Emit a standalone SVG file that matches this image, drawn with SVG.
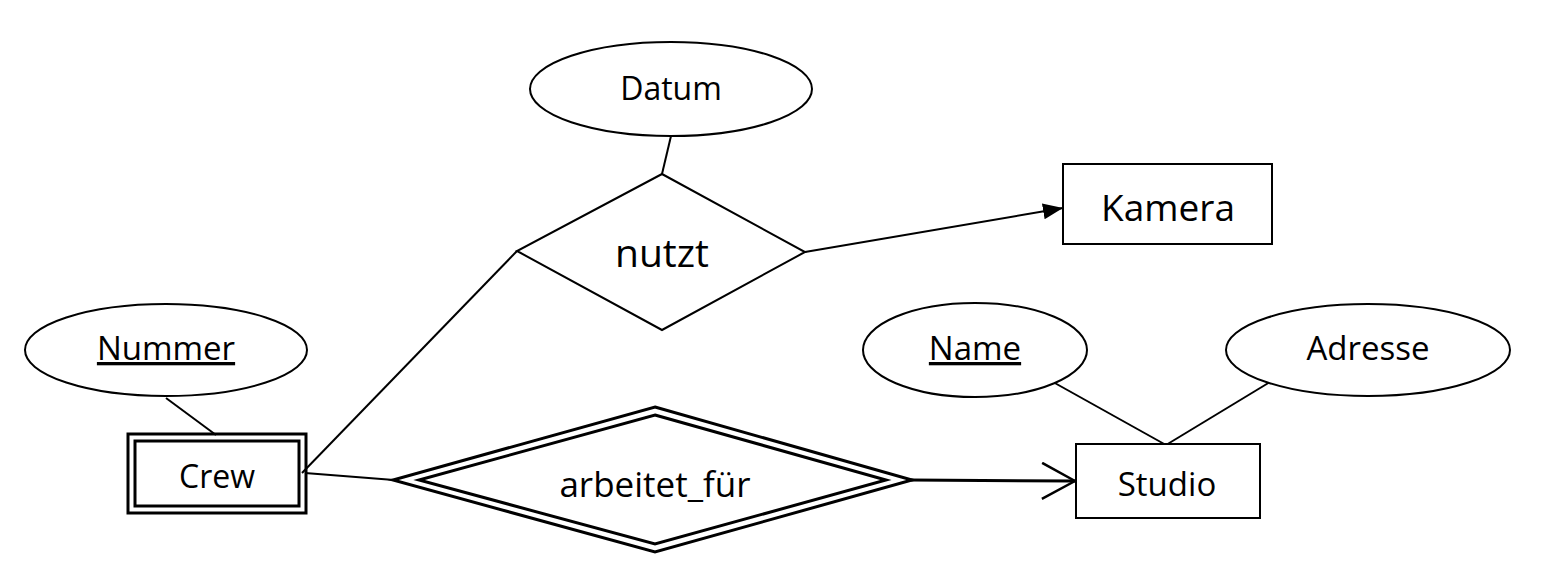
<svg xmlns="http://www.w3.org/2000/svg" width="1562" height="569" viewBox="0 0 1562 569">
<style>
.bg{fill:#fff}
.shape{fill:#fff;stroke:#000;stroke-width:2}
.thick{fill:none;stroke:#000;stroke-width:3}
.line{fill:none;stroke:#000;stroke-width:2}
text{font-family:"Open Sans","Noto Sans","Liberation Sans",sans-serif;fill:#000;text-anchor:middle}
.ul{text-decoration:underline}
</style>
<defs>
<marker id="filled" viewBox="0 0 20 16" refX="20" refY="8" markerWidth="20" markerHeight="16" markerUnits="userSpaceOnUse" orient="auto">
<path d="M0,0 L20,8 L0,16 Z" fill="#000"/>
</marker>
<marker id="open" viewBox="0 0 36 38" refX="34" refY="19" markerWidth="36" markerHeight="38" markerUnits="userSpaceOnUse" orient="auto">
<path d="M1,1 L34,19 L1,37" fill="none" stroke="#000" stroke-width="2.5"/>
</marker>
</defs>
<rect class="bg" width="1562" height="569"/>
<g id="connectors">
<line class="line" x1="671" y1="136" x2="662" y2="174"/>
<line class="line" x1="805" y1="252" x2="1063" y2="208" marker-end="url(#filled)"/>
<line class="line" x1="166" y1="398" x2="216" y2="435"/>
<line class="line" x1="302" y1="473" x2="517" y2="251"/>
<line class="line" x1="305" y1="473" x2="394" y2="480"/>
<line class="thick" x1="911" y1="480" x2="1075" y2="481" marker-end="url(#open)"/>
<line class="line" x1="1053" y1="382" x2="1166" y2="445"/>
<line class="line" x1="1270" y1="382" x2="1166" y2="445"/>
</g>
<g id="datum">
<ellipse class="shape" cx="671" cy="89" rx="141" ry="47"/>
<text x="671" y="100" font-size="32">Datum</text>
</g>
<g id="nutzt">
<polygon class="shape" points="662,174 805,252 662,330 517,251"/>
<text x="662" y="267" font-size="39">nutzt</text>
</g>
<g id="kamera">
<rect class="shape" x="1063" y="164" width="209" height="80"/>
<text x="1168" y="221" font-size="37">Kamera</text>
</g>
<g id="nummer">
<ellipse class="shape" cx="166" cy="350" rx="141" ry="46"/>
<text class="ul" x="166" y="360" font-size="33">Nummer</text>
</g>
<g id="crew">
<rect class="thick" x="128" y="434" width="178" height="79"/>
<rect class="thick" x="135" y="441" width="164" height="65"/>
<text x="217" y="488" font-size="32">Crew</text>
</g>
<g id="arbeitet_fuer">
<polygon class="thick" points="655,407 912,480 655,552 393,480" fill="#fff"/>
<polygon class="thick" points="655,415 886,480 655,544 419,480"/>
<text x="655" y="497" font-size="35">arbeitet_für</text>
</g>
<g id="name">
<ellipse class="shape" cx="975" cy="350" rx="112" ry="47"/>
<text class="ul" x="975" y="360" font-size="33">Name</text>
</g>
<g id="adresse">
<ellipse class="shape" cx="1368" cy="350" rx="142" ry="46"/>
<text x="1368" y="360" font-size="33">Adresse</text>
</g>
<g id="studio">
<rect class="shape" x="1076" y="444" width="184" height="74"/>
<text x="1167" y="496" font-size="33">Studio</text>
</g>
</svg>
